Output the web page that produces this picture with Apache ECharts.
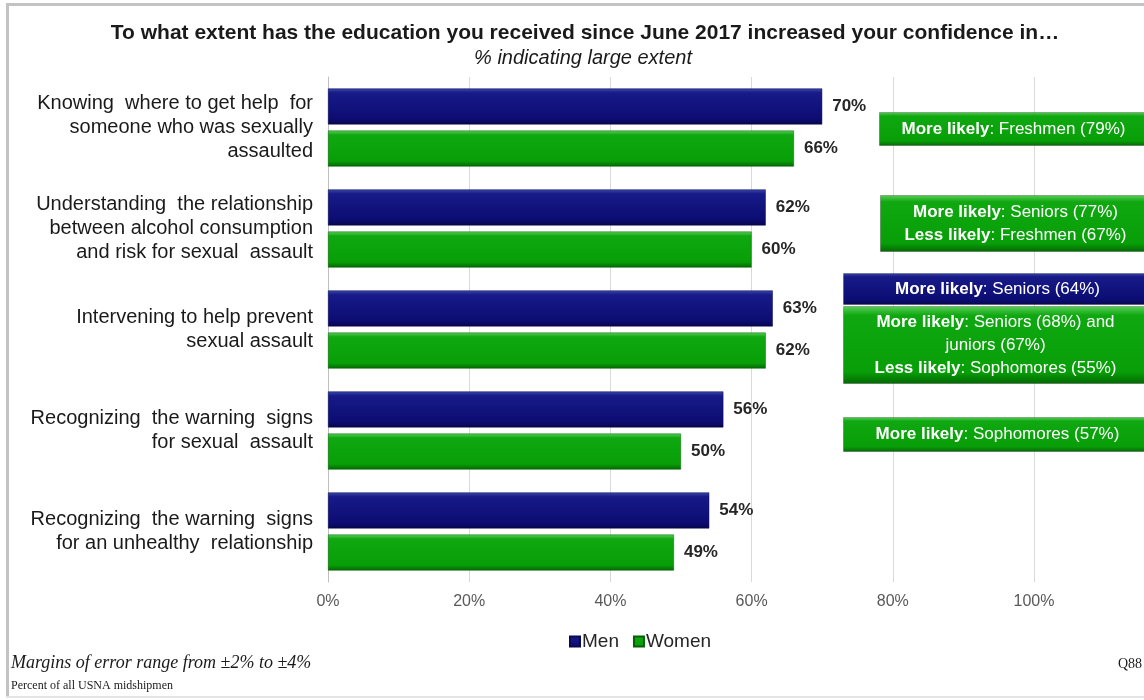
<!DOCTYPE html>
<html>
<head>
<meta charset="utf-8">
<script src="https://cdn.jsdelivr.net/npm/echarts@6/dist/echarts.min.js"></script>
<style>
html,body{margin:0;padding:0;background:#fff;}
#chart{width:1144px;height:700px;}
</style>
</head>
<body>
<div id="chart"></div>
<script>
// ---- data ----
var categories = [
  "Knowing  where to get help  for\nsomeone who was sexually\nassaulted",
  "Understanding  the relationship\nbetween alcohol consumption\nand risk for sexual  assault",
  "Intervening to help prevent\nsexual assault",
  "Recognizing  the warning  signs\nfor sexual  assault",
  "Recognizing  the warning  signs\nfor an unhealthy  relationship"
];
var menValues = [70, 62, 63, 56, 54];
var womenValues = [66, 60, 62, 50, 49];
var seriesNames = ["Men", "Women"];
var xTickValues = [0, 20, 40, 60, 80, 100];
var titleText = "To what extent has the education you received since June 2017 increased your confidence in\u2026";
var subtitleText = "% indicating large extent";
var note1 = [["More likely", ": Freshmen (79%)"]];
var note2 = [["More likely", ": Seniors (77%)"], ["Less likely", ": Freshmen (67%)"]];
var note3 = [["More likely", ": Seniors (64%)"]];
var note4 = [["More likely", ": Seniors (68%) and"], ["", "juniors (67%)"], ["Less likely", ": Sophomores (55%)"]];
var note5 = [["More likely", ": Sophomores (57%)"]];
var footMargin = "Margins of error range from \u00b12% to \u00b14%";
var footBase = "Percent of all USNA midshipmen";
var footQ = "Q88";

// ---- styling ----
var FONT = 'Arial, "Liberation Sans", sans-serif';
var SERIF = '"Times New Roman", "Liberation Serif", serif';
function navyGrad() {
  return new echarts.graphic.LinearGradient(0, 0, 0, 1, [
    {offset: 0, color: '#3a4aa8'}, {offset: 0.12, color: '#171a88'},
    {offset: 0.85, color: '#0c0c72'}, {offset: 1, color: '#06064a'}]);
}
function greenGrad() {
  return new echarts.graphic.LinearGradient(0, 0, 0, 1, [
    {offset: 0, color: '#5ccf5c'}, {offset: 0.12, color: '#10a810'},
    {offset: 0.85, color: '#079e07'}, {offset: 1, color: '#046604'}]);
}

function noteText(lines) {
  return lines.map(function (l) {
    return (l[0] ? '{b|' + l[0] + '}' : '') + '{n|' + l[1] + '}';
  }).join('\n');
}
function noteBox(x, y, w, h, lines, grad, cx) {
  return {
    type: 'group', left: x, top: y, z: 100,
    children: [
      {type: 'rect', z: 100, shape: {x: 0, y: 0, width: w, height: h},
       style: {fill: grad, stroke: 'rgba(0,0,0,0.25)', lineWidth: 1}},
      {type: 'text', z: 101, x: cx - x, y: h / 2,
       style: {text: noteText(lines), align: 'center', verticalAlign: 'middle',
         fill: '#fff', font: '17px ' + FONT, lineHeight: 23,
         rich: {b: {fontWeight: 'bold', fontSize: 17, fontFamily: FONT, fill: '#fff', lineHeight: 23},
                n: {fontSize: 17, fontFamily: FONT, fill: '#fff', lineHeight: 23}}}}
    ]
  };
}

var chart = echarts.init(document.getElementById('chart'));
var valueLabel = {
  show: true, position: 'right', distance: 10,
  formatter: '{c}%', fontFamily: FONT, fontSize: 17, fontWeight: 'bold', color: '#262626'
};
chart.setOption({
  animation: false,
  textStyle: {fontFamily: FONT},
  grid: {left: 328, top: 77, width: 706, height: 505, containLabel: false},
  xAxis: {
    type: 'value', min: 0, max: 100, interval: 20,
    axisLine: {show: false}, axisTick: {show: false},
    splitLine: {show: true, lineStyle: {color: '#d9d9d9', width: 1}},
    axisLabel: {
      margin: 12, color: '#595959', fontSize: 16, fontFamily: FONT,
      formatter: function (v) { return xTickValues.indexOf(v) >= 0 ? v + '%' : ''; }
    }
  },
  yAxis: {
    type: 'category', inverse: true, data: categories,
    axisLine: {show: true, lineStyle: {color: '#bfbfbf'}},
    axisTick: {show: false},
    axisLabel: {margin: 15, color: '#1a1a1a', fontSize: 20, fontFamily: FONT, align: 'right', lineHeight: 24}
  },
  legend: {
    left: 564, top: 627, itemWidth: 10, itemHeight: 10, itemGap: 14,
    icon: 'rect', textStyle: {fontSize: 19, color: '#262626', fontFamily: FONT, padding: [0, 0, 0, -3]},
    data: seriesNames
  },
  series: [
    {name: seriesNames[0], type: 'bar', data: menValues, barWidth: 36, barGap: '17%', barCategoryGap: '23%',
     itemStyle: {color: navyGrad(), borderColor: '#0a0a50', borderWidth: 0.5}, label: valueLabel},
    {name: seriesNames[1], type: 'bar', data: womenValues, barWidth: 36,
     itemStyle: {color: greenGrad(), borderColor: '#056005', borderWidth: 0.5}, label: valueLabel}
  ],
  graphic: [
    {type: 'rect', z: 100, shape: {x: 6, y: 3, width: 1140, height: 3}, style: {fill: '#c3c3c3'}},
    {type: 'rect', z: 100, shape: {x: 6, y: 3, width: 3, height: 694}, style: {fill: '#c3c3c3'}},
    {type: 'rect', z: 100, shape: {x: 6, y: 696, width: 1140, height: 2}, style: {fill: '#e4e4e4'}},
    {type: 'text', x: 585, y: 33, style: {text: titleText, align: 'center', verticalAlign: 'middle',
      font: 'bold 21px ' + FONT, fill: '#1a1a1a'}},
    {type: 'text', x: 583, y: 58, style: {text: subtitleText, align: 'center', verticalAlign: 'middle',
      font: 'italic 20px ' + FONT, fill: '#1a1a1a'}},
    noteBox(879, 112, 272, 33, note1, greenGrad(), 1013),
    noteBox(880, 195, 272, 56, note2, greenGrad(), 1015),
    noteBox(843, 273, 309, 31, note3, navyGrad(), 997),
    noteBox(843, 306, 309, 77, note4, greenGrad(), 995),
    noteBox(843, 417, 309, 34, note5, greenGrad(), 997),
    {type: 'text', x: 11, y: 663, style: {text: footMargin, verticalAlign: 'middle',
      font: 'italic 18px ' + SERIF, fill: '#1a1a1a'}},
    {type: 'text', x: 11, y: 686, style: {text: footBase, verticalAlign: 'middle',
      font: '12px ' + SERIF, fill: '#1a1a1a'}},
    {type: 'text', x: 1142, y: 664, style: {text: footQ, align: 'right', verticalAlign: 'middle',
      font: '14px ' + SERIF, fill: '#1a1a1a'}}
  ]
});
</script>
</body>
</html>
